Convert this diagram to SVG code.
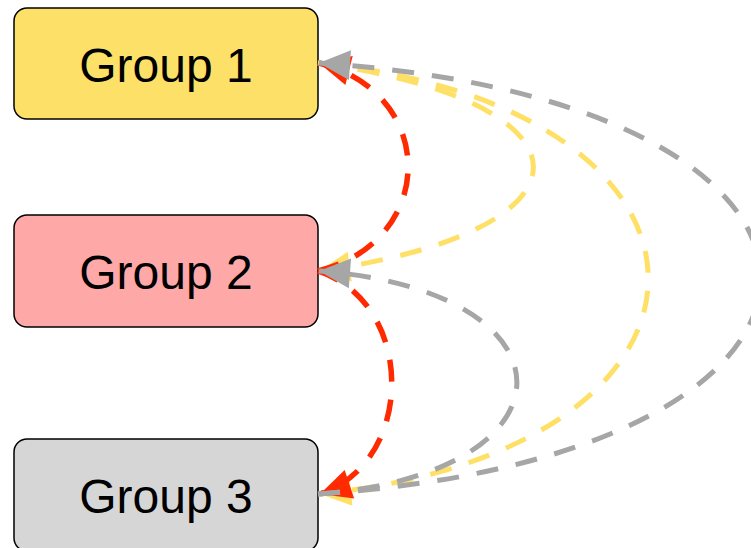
<svg xmlns="http://www.w3.org/2000/svg" width="751" height="548" viewBox="0 0 751 548">
  <style>
    .node rect { stroke: #000; stroke-width: 1.5; }
    .node text { font-family: "Liberation Sans", Arial, sans-serif; font-size: 48px; fill: #000; text-anchor: middle; }
    .edge { fill: none; stroke-width: 5; stroke-dasharray: 22 18; }
    .yellow { stroke: #FFE066; marker-end: url(#arrow-yellow); }
    .red { stroke: #FF2A00; stroke-width: 5.5; marker-end: url(#arrow-red); }
    .gray { stroke: #A6A6A6; marker-end: url(#arrow-gray); }
  </style>
  <defs>
    <marker id="arrow-yellow" markerUnits="userSpaceOnUse" markerWidth="34" markerHeight="32" refX="31" refY="15" orient="auto" overflow="visible">
      <path d="M0,0 L31,15 L0,30 Z" fill="#FFE066"/>
    </marker>
    <marker id="arrow-red" markerUnits="userSpaceOnUse" markerWidth="34" markerHeight="32" refX="31" refY="15" orient="auto" overflow="visible">
      <path d="M0,0 L31,15 L0,30 Z" fill="#FF2A00"/>
    </marker>
    <marker id="arrow-gray" markerUnits="userSpaceOnUse" markerWidth="34" markerHeight="32" refX="31" refY="15" orient="auto" overflow="visible">
      <path d="M0,0 L31,15 L0,30 Z" fill="#A6A6A6"/>
    </marker>
  </defs>

  <g id="group-1" class="node">
    <rect x="14" y="8" width="304" height="111" rx="13" fill="#FCE068"/>
    <text x="166" y="82">Group 1</text>
  </g>
  <g id="group-2" class="node">
    <rect x="14" y="215" width="304" height="112" rx="13" fill="#FFA8A8"/>
    <text x="166" y="289">Group 2</text>
  </g>
  <g id="group-3" class="node">
    <rect x="14" y="439" width="304" height="112" rx="13" fill="#D6D6D6"/>
    <text x="166" y="513">Group 3</text>
  </g>

  <g id="connectors">
    <!-- Group 1 -> Group 2, Group 1 -> Group 3 -->
    <path class="edge yellow" d="M318,63 C605,103 605,231 319,271"/>
    <path class="edge yellow" d="M318,63 C758,108 758,449 320,494"/>
    <!-- Group 2 -> Group 1, Group 2 -> Group 3 -->
    <path class="edge red" d="M318,271 C438,241 438,93 319,63"/>
    <path class="edge red" d="M318,271 C416,303 416,462 320,494"/>
    <!-- Group 3 -> Group 1, Group 3 -> Group 2 -->
    <path class="edge gray" d="M318,494 C908,454 908,103 319,63"/>
    <path class="edge gray" d="M318,494 C583,474 583,291 319,271"/>
  </g>
</svg>
